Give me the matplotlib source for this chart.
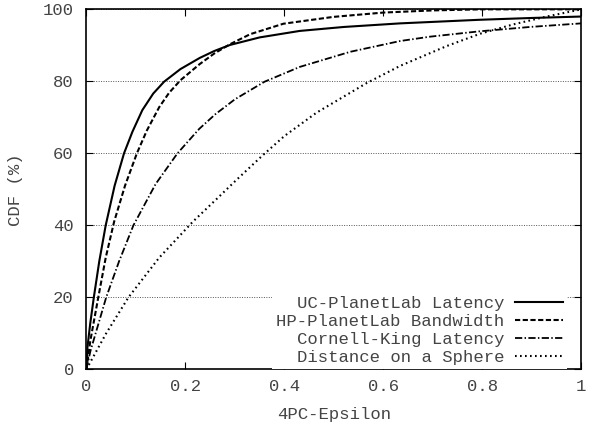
import matplotlib
matplotlib.use('Agg')
import matplotlib.pyplot as plt

# CDF curves (x = 4PC-Epsilon, y = CDF %)
uc_x = [0, 0.002, 0.008, 0.015, 0.026, 0.039, 0.057, 0.076, 0.093, 0.113, 0.135, 0.157, 0.19,
        0.229, 0.258, 0.29, 0.35, 0.431, 0.52, 0.634, 0.795, 0.9, 1.0]
uc_y = [0, 6, 13, 20, 30, 40, 51, 60, 66, 72, 76.6, 79.9, 83.4,
        86.5, 88.4, 90.1, 92.2, 94, 95.1, 96.1, 97.1, 97.6, 98]

hp_x = [0, 0.008, 0.024, 0.039, 0.056, 0.078, 0.102, 0.122, 0.147, 0.167, 0.19, 0.229, 0.258,
        0.29, 0.331, 0.398, 0.499, 0.6, 0.7, 0.8, 1.0]
hp_y = [0, 8, 20, 31, 41, 51, 60, 66.3, 72.8, 76.8, 80.3, 84.8, 87.7,
        90.3, 93.1, 96, 97.9, 99.1, 99.7, 100, 100]

ck_x = [0, 0.008, 0.04, 0.066, 0.095, 0.14, 0.184, 0.228, 0.26, 0.3, 0.36, 0.431, 0.533,
        0.634, 0.694, 0.795, 0.896, 1.0]
ck_y = [0, 5, 20, 30, 40, 51.5, 60, 66.8, 70.8, 75, 79.9, 84, 88.2,
        91.2, 92.4, 93.9, 95.1, 96.1]

sp_x = [0, 0.04, 0.085, 0.147, 0.215, 0.263, 0.3, 0.355, 0.4, 0.465, 0.566, 0.634, 0.728,
        0.795, 0.862, 0.93, 1.0]
sp_y = [0, 10, 20, 31, 41, 47.3, 52.2, 59.3, 64.8, 71.3, 79.5, 84.3, 89.8,
        93.2, 95.8, 98, 100]

labels = ['UC-PlanetLab Latency', 'HP-PlanetLab Bandwidth', 'Cornell-King Latency', 'Distance on a Sphere']
x_ticks = [0, 0.2, 0.4, 0.6, 0.8, 1]
x_ticklabels = ['0', '0.2', '0.4', '0.6', '0.8', '1']
y_ticks = [0, 20, 40, 60, 80, 100]

plt.rcParams['font.family'] = ['Liberation Mono', 'DejaVu Sans Mono']
plt.rcParams['font.size'] = 12.4
txt_color = '#444444'

fig = plt.figure(figsize=(5.89, 4.24), dpi=100)
ax = fig.add_axes([0.1467, 0.129, 0.8403, 0.849])

ax.plot(uc_x, uc_y, color='black', lw=1.5, linestyle='-', label=labels[0])
ax.plot(hp_x, hp_y, color='black', lw=1.5, linestyle=(0, (2.5, 1.2)), label=labels[1])
ax.plot(ck_x, ck_y, color='black', lw=1.3, linestyle=(0, (4, 1.3, 0.8, 1.3)), label=labels[2])
ax.plot(sp_x, sp_y, color='black', lw=1.5, linestyle=(0, (0.8, 1.6)), label=labels[3])

ax.set_xlim(0, 1)
ax.set_ylim(0, 100)
ax.set_xticks(x_ticks, x_ticklabels)
ax.set_yticks(y_ticks)
ax.yaxis.grid(True, linestyle=(0, (1, 1.5)), color='#555555', lw=0.7)
ax.set_axisbelow(True)
ax.tick_params(direction='in', top=True, right=True, length=5, width=0.8,
               labelcolor=txt_color)
ax.tick_params(axis='x', pad=7)
ax.tick_params(axis='y', pad=9)
for s in ax.spines.values():
    s.set_linewidth(1.2)

ax.set_xlabel('4PC-Epsilon', color=txt_color, labelpad=9)
ax.set_ylabel('CDF (%)', color=txt_color, labelpad=14)

leg = ax.legend(loc='lower right', bbox_to_anchor=(0.972, 0.0), markerfirst=False, frameon=True,
                fancybox=False, edgecolor='none', framealpha=1, handlelength=2.8,
                handletextpad=0.6, labelspacing=0.17, borderpad=0.25, borderaxespad=0.0)
for t in leg.get_texts():
    t.set_color(txt_color)

plt.savefig('out.png', dpi=100)
plt.close()
